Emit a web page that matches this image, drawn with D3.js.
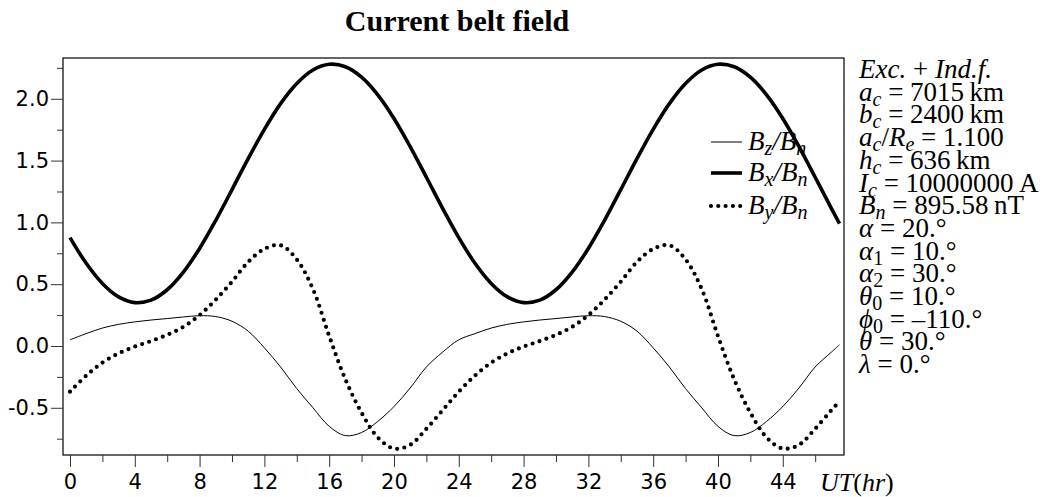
<!DOCTYPE html>
<html>
<head>
<meta charset="utf-8">
<script src="https://cdn.jsdelivr.net/npm/d3@7"></script>
<style>
  body { margin: 0; background: #fff; }
  .tick-label { font-family: "DejaVu Sans", sans-serif; font-size: 21px; fill: #000; }
  .serif { font-family: "Liberation Serif", "Times New Roman", serif; fill: #000; }
</style>
</head>
<body>
<div id="visualization"></div>
<script>
// time in hours (UT)
var hours = [0, 1, 2, 3, 4, 5, 6, 7, 8, 9, 10, 11, 12, 13, 14, 15, 16, 17, 18, 19, 20, 21, 22, 23,
             24, 25, 26, 27, 28, 29, 30, 31, 32, 33, 34, 35, 36, 37, 38, 39, 40, 41, 42, 43, 44, 45, 46, 47, 47.5];

var bz = [0.05, 0.10, 0.145, 0.175, 0.195, 0.21, 0.222, 0.235, 0.245, 0.238, 0.20, 0.12,
          -0.015, -0.17, -0.345, -0.50, -0.65, -0.725, -0.70, -0.61, -0.49, -0.34, -0.17, -0.05,
          0.05, 0.10, 0.145, 0.175, 0.195, 0.21, 0.222, 0.235, 0.245, 0.238, 0.20, 0.12,
          -0.015, -0.17, -0.345, -0.50, -0.65, -0.725, -0.70, -0.61, -0.49, -0.34, -0.17, -0.05, 0.01];

var bx = [0.877, 0.669, 0.506, 0.397, 0.351, 0.371, 0.455, 0.598, 0.789, 1.017, 1.265, 1.516,
          1.753, 1.961, 2.124, 2.233, 2.279, 2.259, 2.175, 2.032, 1.841, 1.613, 1.365, 1.114,
          0.877, 0.669, 0.506, 0.397, 0.351, 0.371, 0.455, 0.598, 0.789, 1.017, 1.265, 1.516,
          1.753, 1.961, 2.124, 2.233, 2.279, 2.259, 2.175, 2.032, 1.841, 1.613, 1.365, 1.114, 0.99];

var by = [-0.37, -0.24, -0.135, -0.06, -0.005, 0.04, 0.09, 0.155, 0.25, 0.375, 0.52, 0.68,
          0.785, 0.815, 0.70, 0.46, 0.08, -0.27, -0.54, -0.74, -0.83, -0.80, -0.67, -0.52,
          -0.37, -0.24, -0.135, -0.06, -0.005, 0.04, 0.09, 0.155, 0.25, 0.375, 0.52, 0.68,
          0.785, 0.815, 0.70, 0.46, 0.08, -0.27, -0.54, -0.74, -0.83, -0.80, -0.67, -0.52, -0.45];

var xMajorTicks = [0, 4, 8, 12, 16, 20, 24, 28, 32, 36, 40, 44];
var xMinorTicks = [2, 6, 10, 14, 18, 22, 26, 30, 34, 38, 42, 46];
var yMajorTicks = [-0.5, 0, 0.5, 1.0, 1.5, 2.0];
var yMinorTicks = [-0.75, -0.25, 0.25, 0.75, 1.25, 1.75, 2.25];

render();

function render() {
  var W = 1044, H = 497;
  var margin = {top: 58, left: 63},
      width = 781,
      height = 397;

  var svg = d3.select('#visualization').append('svg')
              .attr('width', W)
              .attr('height', H);

  var x = d3.scaleLinear().domain([-0.432, 47.78]).range([0, width]);
  var y = d3.scaleLinear().domain([-0.882, 2.330]).range([height, 0]);

  var g = svg.append('g')
             .attr('transform', 'translate(' + margin.left + ',' + margin.top + ')');

  // frame
  g.append('rect')
   .attr('x', 0).attr('y', 0)
   .attr('width', width).attr('height', height)
   .attr('fill', 'none')
   .attr('stroke', '#000')
   .attr('stroke-width', 1.2);

  // x axis ticks
  var xAxisMajor = d3.axisBottom(x).tickValues(xMajorTicks).tickSize(12).tickPadding(6).tickFormat(d3.format('d'));
  var xAxisMinor = d3.axisBottom(x).tickValues(xMinorTicks).tickSize(7).tickFormat('');
  var gx = g.append('g').attr('transform', 'translate(0,' + height + ')').call(xAxisMajor);
  g.append('g').attr('transform', 'translate(0,' + height + ')').call(xAxisMinor)
   .select('.domain').remove();
  gx.select('.domain').remove();
  gx.selectAll('text').attr('class', 'tick-label').attr('fill', '#000').attr('dy', '0.78em');

  // y axis ticks
  var yAxisMajor = d3.axisLeft(y).tickValues(yMajorTicks).tickSize(12).tickPadding(2)
                     .tickFormat(function(d) { return d3.format('.1f')(d).replace('−', '-'); });
  var yAxisMinor = d3.axisLeft(y).tickValues(yMinorTicks).tickSize(6).tickFormat('');
  var gy = g.append('g').call(yAxisMajor);
  g.append('g').call(yAxisMinor).select('.domain').remove();
  gy.select('.domain').remove();
  gy.selectAll('text').attr('class', 'tick-label').attr('fill', '#000');
  g.selectAll('.tick line').attr('stroke', '#333');

  function lineFor(values) {
    return d3.line()
             .x(function(d, i) { return x(hours[i]); })
             .y(function(d) { return y(d); })
             .curve(d3.curveCatmullRom.alpha(0.5))(values);
  }

  g.append('path').attr('d', lineFor(bz))
   .attr('fill', 'none').attr('stroke', '#000').attr('stroke-width', 1);
  g.append('path').attr('d', lineFor(bx))
   .attr('fill', 'none').attr('stroke', '#000').attr('stroke-width', 3.6);
  g.append('path').attr('d', lineFor(by))
   .attr('fill', 'none').attr('stroke', '#000').attr('stroke-width', 4.2)
   .attr('stroke-linecap', 'round').attr('stroke-dasharray', '0 7.3');

  // title
  svg.append('text')
     .attr('class', 'serif')
     .attr('x', 457).attr('y', 31)
     .attr('text-anchor', 'middle')
     .attr('font-size', 30).attr('font-weight', 'bold')
     .text('Current belt field');

  // x axis label
  var ut = svg.append('text').attr('class', 'serif')
              .attr('x', 820).attr('y', 491).attr('font-size', 26).attr('font-style', 'italic');
  ut.append('tspan').text('UT');
  ut.append('tspan').attr('font-style', 'normal').text('(');
  ut.append('tspan').text('hr');
  ut.append('tspan').attr('font-style', 'normal').text(')');

  // legend
  var legend = [
    {sub: 'z', width: 1, dash: null, y: 142},
    {sub: 'x', width: 3.6, dash: null, y: 173},
    {sub: 'y', width: 4.2, dash: '0 7.3', y: 206}
  ];
  legend.forEach(function(l) {
    var ln = svg.append('line')
                .attr('x1', 711).attr('x2', 742)
                .attr('y1', l.y).attr('y2', l.y)
                .attr('stroke', '#000').attr('stroke-width', l.width);
    if (l.dash) ln.attr('stroke-dasharray', l.dash).attr('stroke-linecap', 'round');
    var t = svg.append('text').attr('class', 'serif')
               .attr('x', 748).attr('y', l.y + 8)
               .attr('font-size', 27).attr('font-style', 'italic');
    t.append('tspan').text('B');
    t.append('tspan').attr('font-size', 20).attr('dy', 5).text(l.sub);
    t.append('tspan').attr('dy', -5).text('/B');
    t.append('tspan').attr('font-size', 20).attr('dy', 5).text('n');
  });

  // parameter block
  var params = [
    [['Exc.', 'i'], [' + ', 'n'], ['Ind.f.', 'i']],
    [['a', 'i'], ['c', 's'], [' = 7015\u2009km', 'n']],
    [['b', 'i'], ['c', 's'], [' = 2400\u2009km', 'n']],
    [['a', 'i'], ['c', 's'], ['/', 'n'], ['R', 'i'], ['e', 's'], [' = 1.100', 'n']],
    [['h', 'i'], ['c', 's'], [' = 636\u2009km', 'n']],
    [['I', 'i'], ['c', 's'], [' = 10000000\u2009A', 'n']],
    [['B', 'i'], ['n', 's'], [' = 895.58\u2009nT', 'n']],
    [['\u03b1', 'i'], [' = 20.\u00b0', 'n']],
    [['\u03b1', 'i'], ['1', 'S'], [' = 10.\u00b0', 'n']],
    [['\u03b1', 'i'], ['2', 'S'], [' = 30.\u00b0', 'n']],
    [['\u03b8', 'i'], ['0', 'S'], [' = 10.\u00b0', 'n']],
    [['\u03d5', 'i'], ['0', 'S'], [' = \u2013110.\u00b0', 'n']],
    [['\u03b8', 'i'], [' = 30.\u00b0', 'n']],
    [['\u03bb', 'i'], [' = 0.\u00b0', 'n']]
  ];
  params.forEach(function(row, r) {
    var t = svg.append('text').attr('class', 'serif')
               .attr('x', 859).attr('y', 78 + r * 22.7)
               .attr('font-size', 27)
               .attr('xml:space', 'preserve');
    var shifted = false;
    row.forEach(function(part) {
      var s = t.append('tspan').text(part[0]);
      var isSub = part[1] === 's' || part[1] === 'S';
      if (part[1] === 'i' || part[1] === 's') s.attr('font-style', 'italic');
      if (isSub) {
        s.attr('font-size', 20).attr('dy', shifted ? 0 : 5);
        shifted = true;
      } else if (shifted) {
        s.attr('dy', -5);
        shifted = false;
      }
    });
  });
}
</script>
</body>
</html>
